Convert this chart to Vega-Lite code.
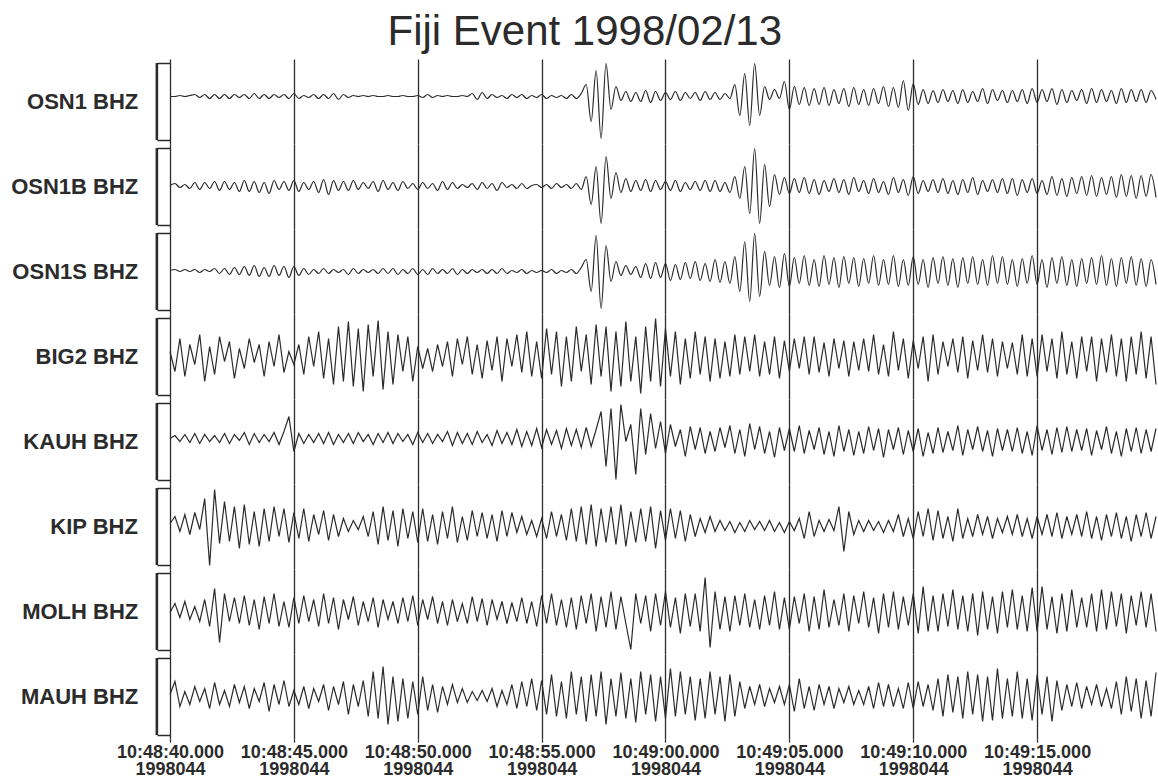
{
"$schema":"https://vega.github.io/schema/vega-lite/v6.json",
"background":"white",
"bounds":"flush",
"padding":{"left":11,"top":11,"right":0,"bottom":2},
"title":{"text":"Fiji Event 1998/02/13","fontSize":42,"font":"Liberation Sans","fontWeight":"normal","color":"#2b2b2b","anchor":"middle","frame":"bounds","offset":5},
"data":{"values":[
{"t":0,"a":5,"b":1,"c":1,"d":5,"e":3,"f":3,"g":-1,"h":2},
{"t":0.2,"a":5,"b":3,"c":2,"d":-15,"e":6,"f":10,"g":8,"h":15},
{"t":0.4,"a":6,"b":-1,"c":0,"d":18,"e":0,"f":-5,"g":-6,"h":-10},
{"t":0.6,"a":5,"b":2,"c":2,"d":-20,"e":7,"f":12,"g":10,"h":5},
{"t":0.8,"a":6,"b":-2,"c":0,"d":12,"e":-1,"f":-8,"g":-8,"h":-8},
{"t":1,"a":7,"b":4,"c":2,"d":-8,"e":8,"f":14,"g":5,"h":10},
{"t":1.2,"a":4,"b":-3,"c":-1,"d":22,"e":-2,"f":-3,"g":-10,"h":-5},
{"t":1.4,"a":7,"b":4,"c":2,"d":-25,"e":7,"f":28,"g":12,"h":8},
{"t":1.6,"a":3,"b":-2,"c":0,"d":10,"e":0,"f":-39,"g":-15,"h":-12},
{"t":1.8,"a":7,"b":5,"c":3,"d":-18,"e":6,"f":37,"g":23,"h":14},
{"t":2,"a":3,"b":-4,"c":-2,"d":20,"e":-1,"f":-17,"g":-31,"h":-8},
{"t":2.2,"a":7,"b":5,"c":3,"d":-5,"e":8,"f":25,"g":18,"h":6},
{"t":2.4,"a":3,"b":-3,"c":-3,"d":15,"e":-2,"f":-15,"g":-10,"h":-10},
{"t":2.6,"a":7,"b":4,"c":4,"d":-22,"e":7,"f":20,"g":14,"h":12},
{"t":2.8,"a":4,"b":-5,"c":-3,"d":8,"e":1,"f":-22,"g":-12,"h":-6},
{"t":3,"a":7,"b":6,"c":5,"d":-12,"e":9,"f":22,"g":16,"h":10},
{"t":3.2,"a":3,"b":-5,"c":-4,"d":18,"e":-3,"f":-18,"g":-14,"h":-12},
{"t":3.4,"a":8,"b":5,"c":6,"d":-6,"e":8,"f":15,"g":12,"h":8},
{"t":3.6,"a":3,"b":-6,"c":-5,"d":12,"e":-1,"f":-20,"g":-18,"h":-5},
{"t":3.8,"a":7,"b":4,"c":4,"d":-20,"e":7,"f":18,"g":15,"h":14},
{"t":4,"a":3,"b":-7,"c":-5,"d":15,"e":0,"f":-15,"g":-12,"h":-15},
{"t":4.2,"a":7,"b":6,"c":6,"d":-10,"e":9,"f":20,"g":18,"h":12},
{"t":4.4,"a":4,"b":-3,"c":-4,"d":22,"e":-3,"f":-10,"g":-15,"h":-8},
{"t":4.6,"a":7,"b":5,"c":5,"d":-16,"e":10,"f":18,"g":10,"h":16},
{"t":4.8,"a":3,"b":-4,"c":-6,"d":5,"e":25,"f":-16,"g":-16,"h":-10},
{"t":5,"a":8,"b":6,"c":5,"d":-8,"e":-10,"f":14,"g":14,"h":6},
{"t":5.2,"a":3,"b":-5,"c":-4,"d":12,"e":8,"f":-12,"g":-12,"h":-8},
{"t":5.4,"a":6,"b":4,"c":3,"d":-18,"e":-2,"f":18,"g":16,"h":10},
{"t":5.6,"a":4,"b":-3,"c":-3,"d":20,"e":7,"f":-15,"g":-10,"h":-12},
{"t":5.8,"a":7,"b":5,"c":2,"d":-10,"e":-1,"f":12,"g":12,"h":8},
{"t":6,"a":3,"b":-6,"c":-2,"d":25,"e":8,"f":-8,"g":-15,"h":-5},
{"t":6.2,"a":7,"b":7,"c":3,"d":-22,"e":-2,"f":16,"g":18,"h":12},
{"t":6.4,"a":3,"b":-8,"c":-2,"d":18,"e":9,"f":-14,"g":-12,"h":-14},
{"t":6.6,"a":8,"b":6,"c":2,"d":-28,"e":-3,"f":12,"g":14,"h":10},
{"t":6.8,"a":2,"b":-4,"c":-1,"d":30,"e":7,"f":-10,"g":-18,"h":-8},
{"t":7,"a":7,"b":5,"c":2,"d":-25,"e":-1,"f":8,"g":12,"h":15},
{"t":7.2,"a":4,"b":-4,"c":-3,"d":35,"e":8,"f":-5,"g":-8,"h":-18},
{"t":7.4,"a":6,"b":6,"c":3,"d":-30,"e":-2,"f":6,"g":15,"h":12},
{"t":7.6,"a":5,"b":-3,"c":-2,"d":28,"e":9,"f":-3,"g":-14,"h":-10},
{"t":7.8,"a":6,"b":4,"c":2,"d":-35,"e":0,"f":10,"g":10,"h":16},
{"t":8,"a":5,"b":-2,"c":-1,"d":32,"e":7,"f":-10,"g":-10,"h":-20},
{"t":8.2,"a":6,"b":5,"c":2,"d":-20,"e":-3,"f":15,"g":14,"h":25},
{"t":8.4,"a":5,"b":-5,"c":-2,"d":36,"e":8,"f":-18,"g":-16,"h":-22},
{"t":8.6,"a":5,"b":6,"c":3,"d":-33,"e":-1,"f":20,"g":12,"h":30},
{"t":8.8,"a":6,"b":-3,"c":-2,"d":25,"e":9,"f":-14,"g":-8,"h":-28},
{"t":9,"a":5,"b":4,"c":3,"d":-28,"e":-2,"f":16,"g":10,"h":20},
{"t":9.2,"a":5,"b":-4,"c":-3,"d":22,"e":8,"f":-20,"g":-12,"h":-25},
{"t":9.4,"a":6,"b":5,"c":2,"d":-15,"e":0,"f":18,"g":14,"h":18},
{"t":9.6,"a":5,"b":-2,"c":-2,"d":20,"e":7,"f":-12,"g":-10,"h":-22},
{"t":9.8,"a":5,"b":3,"c":3,"d":-25,"e":-3,"f":15,"g":16,"h":15},
{"t":10,"a":6,"b":-3,"c":-3,"d":10,"e":9,"f":-16,"g":-14,"h":-18},
{"t":10.2,"a":4,"b":4,"c":2,"d":-12,"e":-1,"f":18,"g":12,"h":20},
{"t":10.4,"a":7,"b":-2,"c":-3,"d":8,"e":8,"f":-15,"g":-8,"h":-14},
{"t":10.6,"a":4,"b":3,"c":3,"d":-15,"e":-2,"f":12,"g":15,"h":12},
{"t":10.8,"a":6,"b":-4,"c":-2,"d":12,"e":7,"f":-18,"g":-12,"h":-16},
{"t":11,"a":5,"b":5,"c":2,"d":-10,"e":0,"f":15,"g":10,"h":10},
{"t":11.2,"a":6,"b":-3,"c":-2,"d":15,"e":10,"f":-12,"g":-14,"h":-8},
{"t":11.4,"a":5,"b":4,"c":3,"d":-20,"e":-4,"f":20,"g":12,"h":12},
{"t":11.6,"a":5,"b":-2,"c":-3,"d":18,"e":9,"f":-16,"g":-10,"h":-6},
{"t":11.8,"a":6,"b":2,"c":2,"d":-8,"e":-2,"f":10,"g":8,"h":8},
{"t":12,"a":5,"b":-1,"c":-2,"d":20,"e":8,"f":-14,"g":-12,"h":-6},
{"t":12.2,"a":8,"b":3,"c":2,"d":-18,"e":-3,"f":16,"g":15,"h":5},
{"t":12.4,"a":2,"b":-3,"c":-1,"d":12,"e":10,"f":-10,"g":-10,"h":-4},
{"t":12.6,"a":9,"b":4,"c":2,"d":-22,"e":-1,"f":14,"g":13,"h":6},
{"t":12.8,"a":3,"b":-2,"c":-2,"d":16,"e":7,"f":-12,"g":-14,"h":-5},
{"t":13,"a":7,"b":3,"c":2,"d":-14,"e":-4,"f":12,"g":12,"h":8},
{"t":13.2,"a":4,"b":-4,"c":-2,"d":20,"e":11,"f":-15,"g":-8,"h":-10},
{"t":13.4,"a":6,"b":4,"c":3,"d":-25,"e":-2,"f":16,"g":10,"h":6},
{"t":13.6,"a":3,"b":-1,"c":-2,"d":18,"e":9,"f":-10,"g":-12,"h":-8},
{"t":13.8,"a":7,"b":2,"c":1,"d":-10,"e":-3,"f":14,"g":9,"h":12},
{"t":14,"a":4,"b":-2,"c":-1,"d":22,"e":12,"f":-6,"g":-10,"h":-12},
{"t":14.2,"a":7,"b":3,"c":2,"d":-16,"e":-5,"f":10,"g":14,"h":15},
{"t":14.4,"a":3,"b":-2,"c":-2,"d":25,"e":10,"f":-8,"g":-12,"h":-10},
{"t":14.6,"a":6,"b":1,"c":1,"d":-20,"e":-4,"f":6,"g":10,"h":18},
{"t":14.8,"a":4,"b":2,"c":-1,"d":15,"e":13,"f":-10,"g":-15,"h":-14},
{"t":15,"a":7,"b":-1,"c":1,"d":-22,"e":-6,"f":8,"g":16,"h":16},
{"t":15.2,"a":3,"b":2,"c":-1,"d":28,"e":12,"f":-12,"g":-12,"h":-18},
{"t":15.4,"a":6,"b":-2,"c":2,"d":-18,"e":-3,"f":15,"g":18,"h":22},
{"t":15.6,"a":4,"b":3,"c":-2,"d":25,"e":11,"f":-10,"g":-14,"h":-20},
{"t":15.8,"a":6,"b":-1,"c":1,"d":-30,"e":-7,"f":12,"g":12,"h":15},
{"t":16,"a":3,"b":2,"c":-1,"d":20,"e":13,"f":-14,"g":-16,"h":-22},
{"t":16.2,"a":7,"b":-2,"c":2,"d":-25,"e":-4,"f":18,"g":14,"h":25},
{"t":16.4,"a":3,"b":3,"c":-2,"d":30,"e":12,"f":-15,"g":-18,"h":-18},
{"t":16.6,"a":8,"b":-3,"c":4,"d":-15,"e":-6,"f":20,"g":16,"h":20},
{"t":16.8,"a":17,"b":10,"c":12,"d":22,"e":14,"f":-18,"g":-12,"h":-25},
{"t":17,"a":-20,"b":-18,"c":-20,"d":-28,"e":-5,"f":22,"g":18,"h":22},
{"t":17.2,"a":31,"b":20,"c":36,"d":32,"e":12,"f":-20,"g":-20,"h":-20},
{"t":17.4,"a":-37,"b":-37,"c":-37,"d":-20,"e":30,"f":18,"g":15,"h":25},
{"t":17.6,"a":38,"b":30,"c":26,"d":30,"e":-25,"f":-16,"g":-16,"h":-28},
{"t":17.8,"a":-8,"b":-12,"c":-10,"d":-35,"e":33,"f":20,"g":20,"h":18},
{"t":18,"a":15,"b":14,"c":10,"d":25,"e":-38,"f":-18,"g":-18,"h":-20},
{"t":18.2,"a":1,"b":-6,"c":-4,"d":-30,"e":37,"f":22,"g":15,"h":24},
{"t":18.4,"a":10,"b":8,"c":6,"d":35,"e":0,"f":-20,"g":-12,"h":-22},
{"t":18.6,"a":0,"b":-5,"c":-3,"d":-25,"e":17,"f":15,"g":-38,"h":18},
{"t":18.8,"a":9,"b":6,"c":5,"d":20,"e":-33,"f":-16,"g":18,"h":-26},
{"t":19,"a":0,"b":-4,"c":-6,"d":-37,"e":33,"f":18,"g":-12,"h":25},
{"t":19.2,"a":11,"b":7,"c":8,"d":30,"e":-13,"f":-15,"g":16,"h":-18},
{"t":19.4,"a":-1,"b":-5,"c":-7,"d":-25,"e":28,"f":20,"g":-20,"h":22},
{"t":19.6,"a":10,"b":6,"c":9,"d":38,"e":-7,"f":-22,"g":18,"h":-25},
{"t":19.8,"a":1,"b":-3,"c":-6,"d":-30,"e":20,"f":16,"g":-14,"h":20},
{"t":20,"a":9,"b":5,"c":8,"d":28,"e":-12,"f":-14,"g":20,"h":-22},
{"t":20.2,"a":2,"b":-4,"c":-9,"d":-20,"e":17,"f":18,"g":-16,"h":28},
{"t":20.4,"a":10,"b":6,"c":7,"d":25,"e":-5,"f":-12,"g":14,"h":-20},
{"t":20.6,"a":1,"b":-5,"c":-8,"d":-28,"e":12,"f":16,"g":-22,"h":25},
{"t":20.8,"a":9,"b":4,"c":9,"d":18,"e":-15,"f":-15,"g":18,"h":-18},
{"t":21,"a":3,"b":-3,"c":-7,"d":-22,"e":15,"f":12,"g":-15,"h":20},
{"t":21.2,"a":9,"b":5,"c":10,"d":25,"e":-8,"f":-10,"g":18,"h":-24},
{"t":21.4,"a":1,"b":-4,"c":-9,"d":-18,"e":14,"f":8,"g":-20,"h":18},
{"t":21.6,"a":10,"b":6,"c":8,"d":20,"e":-12,"f":-6,"g":34,"h":-22},
{"t":21.8,"a":2,"b":-5,"c":-10,"d":-25,"e":10,"f":10,"g":-36,"h":25},
{"t":22,"a":9,"b":6,"c":12,"d":18,"e":-10,"f":-5,"g":20,"h":-18},
{"t":22.2,"a":2,"b":-5,"c":-11,"d":-22,"e":14,"f":6,"g":-18,"h":20},
{"t":22.4,"a":8,"b":4,"c":10,"d":15,"e":-6,"f":-4,"g":15,"h":-25},
{"t":22.6,"a":3,"b":-6,"c":-12,"d":-20,"e":16,"f":5,"g":-20,"h":22},
{"t":22.8,"a":17,"b":10,"c":15,"d":22,"e":-12,"f":-6,"g":16,"h":-20},
{"t":23,"a":-14,"b":-12,"c":-20,"d":-18,"e":12,"f":4,"g":-14,"h":15},
{"t":23.2,"a":28,"b":20,"c":30,"d":20,"e":-15,"f":-5,"g":18,"h":-12},
{"t":23.4,"a":-24,"b":-27,"c":-30,"d":-15,"e":18,"f":6,"g":-16,"h":10},
{"t":23.6,"a":38,"b":38,"c":38,"d":22,"e":-8,"f":-3,"g":12,"h":-8},
{"t":23.8,"a":-14,"b":-37,"c":-25,"d":-20,"e":15,"f":5,"g":-18,"h":12},
{"t":24,"a":15,"b":22,"c":20,"d":15,"e":-12,"f":-4,"g":16,"h":-10},
{"t":24.2,"a":2,"b":-20,"c":-14,"d":-18,"e":10,"f":6,"g":-14,"h":8},
{"t":24.4,"a":12,"b":12,"c":15,"d":20,"e":-16,"f":-5,"g":20,"h":-6},
{"t":24.6,"a":3,"b":-8,"c":-16,"d":-22,"e":14,"f":4,"g":-18,"h":10},
{"t":24.8,"a":20,"b":9,"c":18,"d":16,"e":-9,"f":-6,"g":14,"h":-8},
{"t":25,"a":-8,"b":-7,"c":-15,"d":-15,"e":13,"f":5,"g":-18,"h":12},
{"t":25.2,"a":15,"b":8,"c":14,"d":18,"e":-10,"f":-4,"g":15,"h":-15},
{"t":25.4,"a":-3,"b":-6,"c":-12,"d":-12,"e":16,"f":8,"g":-12,"h":18},
{"t":25.6,"a":14,"b":9,"c":16,"d":20,"e":-12,"f":-12,"g":18,"h":-12},
{"t":25.8,"a":-4,"b":-7,"c":-14,"d":-18,"e":11,"f":15,"g":-20,"h":10},
{"t":26,"a":13,"b":7,"c":12,"d":20,"e":-8,"f":-10,"g":15,"h":-14},
{"t":26.2,"a":-3,"b":-8,"c":-15,"d":-16,"e":14,"f":6,"g":-18,"h":12},
{"t":26.4,"a":14,"b":6,"c":16,"d":14,"e":-13,"f":-5,"g":22,"h":-8},
{"t":26.6,"a":-4,"b":-5,"c":-13,"d":-20,"e":10,"f":7,"g":-16,"h":10},
{"t":26.8,"a":12,"b":8,"c":14,"d":18,"e":-15,"f":-4,"g":12,"h":-12},
{"t":27,"a":-2,"b":-6,"c":-16,"d":-12,"e":16,"f":20,"g":-14,"h":8},
{"t":27.2,"a":13,"b":7,"c":15,"d":16,"e":-10,"f":-25,"g":18,"h":-6},
{"t":27.4,"a":-5,"b":-8,"c":-12,"d":-20,"e":12,"f":15,"g":-20,"h":10},
{"t":27.6,"a":14,"b":9,"c":14,"d":15,"e":-14,"f":-8,"g":16,"h":-8},
{"t":27.8,"a":-3,"b":-5,"c":-15,"d":-14,"e":10,"f":6,"g":-12,"h":6},
{"t":28,"a":12,"b":6,"c":13,"d":18,"e":-12,"f":-5,"g":20,"h":-8},
{"t":28.2,"a":-4,"b":-7,"c":-12,"d":-15,"e":15,"f":6,"g":-16,"h":10},
{"t":28.4,"a":13,"b":8,"c":16,"d":22,"e":-9,"f":-4,"g":14,"h":-12},
{"t":28.6,"a":-2,"b":-6,"c":-14,"d":-18,"e":13,"f":5,"g":-22,"h":14},
{"t":28.8,"a":15,"b":5,"c":12,"d":12,"e":-16,"f":-6,"g":18,"h":-10},
{"t":29,"a":-5,"b":-8,"c":-13,"d":-20,"e":12,"f":6,"g":-16,"h":12},
{"t":29.2,"a":14,"b":9,"c":16,"d":25,"e":-8,"f":-5,"g":20,"h":-10},
{"t":29.4,"a":-6,"b":-6,"c":-15,"d":-14,"e":14,"f":12,"g":-18,"h":8},
{"t":29.6,"a":21,"b":7,"c":12,"d":18,"e":-13,"f":-10,"g":15,"h":-12},
{"t":29.8,"a":-9,"b":-9,"c":-14,"d":-22,"e":11,"f":8,"g":-14,"h":14},
{"t":30,"a":18,"b":10,"c":15,"d":16,"e":-10,"f":-12,"g":18,"h":-12},
{"t":30.2,"a":-3,"b":-7,"c":-13,"d":-12,"e":13,"f":15,"g":-22,"h":15},
{"t":30.4,"a":12,"b":6,"c":12,"d":20,"e":-15,"f":-10,"g":25,"h":-10},
{"t":30.6,"a":-2,"b":-5,"c":-16,"d":-25,"e":9,"f":18,"g":-20,"h":12},
{"t":30.8,"a":11,"b":7,"c":14,"d":22,"e":-12,"f":-14,"g":16,"h":-14},
{"t":31,"a":-1,"b":-6,"c":-12,"d":-18,"e":14,"f":16,"g":-20,"h":18},
{"t":31.2,"a":12,"b":8,"c":15,"d":15,"e":-11,"f":-12,"g":18,"h":-20},
{"t":31.4,"a":0,"b":-7,"c":-14,"d":-10,"e":10,"f":10,"g":-15,"h":22},
{"t":31.6,"a":11,"b":6,"c":13,"d":18,"e":-9,"f":-15,"g":22,"h":-16},
{"t":31.8,"a":-2,"b":-8,"c":-16,"d":-16,"e":16,"f":18,"g":-18,"h":20},
{"t":32,"a":12,"b":7,"c":14,"d":20,"e":-14,"f":-12,"g":16,"h":-22},
{"t":32.2,"a":-1,"b":-6,"c":-12,"d":-22,"e":12,"f":8,"g":-20,"h":25},
{"t":32.4,"a":10,"b":9,"c":15,"d":16,"e":-8,"f":-10,"g":18,"h":-18},
{"t":32.6,"a":0,"b":-8,"c":-13,"d":-14,"e":15,"f":12,"g":-24,"h":22},
{"t":32.8,"a":13,"b":6,"c":12,"d":22,"e":-10,"f":-8,"g":20,"h":-25},
{"t":33,"a":-2,"b":-5,"c":-14,"d":-16,"e":11,"f":10,"g":-18,"h":20},
{"t":33.2,"a":12,"b":7,"c":16,"d":18,"e":-15,"f":-12,"g":15,"h":-24},
{"t":33.4,"a":1,"b":-6,"c":-12,"d":-20,"e":13,"f":8,"g":-22,"h":28},
{"t":33.6,"a":11,"b":8,"c":15,"d":15,"e":-9,"f":-6,"g":20,"h":-22},
{"t":33.8,"a":-1,"b":-7,"c":-13,"d":-12,"e":12,"f":10,"g":-16,"h":18},
{"t":34,"a":11,"b":8,"c":12,"d":14,"e":-10,"f":-8,"g":22,"h":-20},
{"t":34.2,"a":0,"b":-9,"c":-15,"d":-18,"e":14,"f":12,"g":-18,"h":25},
{"t":34.4,"a":12,"b":7,"c":13,"d":22,"e":-12,"f":-10,"g":16,"h":-22},
{"t":34.6,"a":-2,"b":-6,"c":-12,"d":-20,"e":10,"f":8,"g":-20,"h":18},
{"t":34.8,"a":13,"b":8,"c":16,"d":18,"e":-14,"f":-12,"g":24,"h":-24},
{"t":35,"a":-1,"b":-7,"c":-13,"d":-20,"e":16,"f":10,"g":-20,"h":22},
{"t":35.2,"a":12,"b":6,"c":12,"d":22,"e":-9,"f":-8,"g":25,"h":-18},
{"t":35.4,"a":0,"b":-8,"c":-16,"d":-15,"e":12,"f":12,"g":-18,"h":20},
{"t":35.6,"a":13,"b":10,"c":14,"d":18,"e":-13,"f":-10,"g":15,"h":-25},
{"t":35.8,"a":-3,"b":-9,"c":-12,"d":-22,"e":14,"f":14,"g":-22,"h":16},
{"t":36,"a":12,"b":8,"c":15,"d":25,"e":-11,"f":-12,"g":18,"h":-14},
{"t":36.2,"a":-1,"b":-10,"c":-14,"d":-18,"e":15,"f":10,"g":-20,"h":12},
{"t":36.4,"a":11,"b":9,"c":12,"d":15,"e":-10,"f":-8,"g":22,"h":-10},
{"t":36.6,"a":1,"b":-7,"c":-15,"d":-22,"e":12,"f":12,"g":-16,"h":14},
{"t":36.8,"a":12,"b":10,"c":13,"d":20,"e":-9,"f":-10,"g":14,"h":-12},
{"t":37,"a":-2,"b":-9,"c":-12,"d":-15,"e":13,"f":15,"g":-16,"h":10},
{"t":37.2,"a":13,"b":11,"c":14,"d":20,"e":-14,"f":-12,"g":18,"h":-8},
{"t":37.4,"a":-1,"b":-10,"c":-13,"d":-25,"e":11,"f":10,"g":-20,"h":12},
{"t":37.6,"a":12,"b":9,"c":16,"d":18,"e":-8,"f":-14,"g":22,"h":-10},
{"t":37.8,"a":0,"b":-8,"c":-14,"d":-16,"e":15,"f":12,"g":-18,"h":8},
{"t":38,"a":11,"b":10,"c":13,"d":22,"e":-12,"f":-10,"g":20,"h":-12},
{"t":38.2,"a":-2,"b":-11,"c":-15,"d":-20,"e":10,"f":14,"g":-15,"h":15},
{"t":38.4,"a":13,"b":12,"c":14,"d":18,"e":-15,"f":-12,"g":18,"h":-18},
{"t":38.6,"a":-1,"b":-10,"c":-12,"d":-25,"e":13,"f":10,"g":-22,"h":20},
{"t":38.8,"a":12,"b":11,"c":15,"d":20,"e":-10,"f":-15,"g":16,"h":-15},
{"t":39,"a":0,"b":-12,"c":-14,"d":-18,"e":14,"f":12,"g":-14,"h":18},
{"t":39.2,"a":12,"b":11,"c":13,"d":25,"e":-12,"f":-10,"g":20,"h":-22},
{"t":39.4,"a":-1,"b":-10,"c":-15,"d":-22,"e":12,"f":14,"g":-16,"h":16},
{"t":39.6,"a":11,"b":12,"c":12,"d":20,"e":-10,"f":-12,"g":18,"h":-20},
{"t":39.8,"a":2,"b":-11,"c":-13,"d":-28,"e":13,"f":10,"g":-20,"h":24}
]},
"transform":[{"fold":["a","b","c","d","e","f","g","h"],"as":["k","v"]}],
"spacing":0,
"facet":{"row":{"field":"k","type":"nominal","title":null,"header":{"labelExpr":"datum.value=='a'?'OSN1 BHZ':datum.value=='b'?'OSN1B BHZ':datum.value=='c'?'OSN1S BHZ':datum.value=='d'?'BIG2 BHZ':datum.value=='e'?'KAUH BHZ':datum.value=='f'?'KIP BHZ':datum.value=='g'?'MOLH BHZ':'MAUH BHZ'","labelOrient":"left","labelAngle":0,"labelAlign":"left","labelBaseline":"middle","labelFont":"Liberation Sans","labelFontSize":22,"labelFontWeight":"bold","labelColor":"#2b2b2b","labelPadding":18}}},
"spec":{"width":988,"height":85,"layer":[
{"transform":[{"filter":"datum.k=='a'||datum.k=='b'||datum.k=='c'"}],
"mark":{"type":"line","color":"#2b2b2b","strokeWidth":1.2,"interpolate":"monotone"},
"encoding":{
"x":{"field":"t","type":"quantitative","scale":{"domain":[0,39.88],"nice":false,"zero":false},
"axis":{"values":[0,5,10,15,20,25,30,35],"labelExpr":"[timeFormat(datetime(1998,1,13,10,48,40+datum.value),'%H:%M:%S.%L'),timeFormat(datetime(1998,1,13,10,48,40+datum.value),'%Y%j')]","grid":true,"gridColor":"#2b2b2b","gridWidth":1.3,"gridOpacity":1,"domain":false,"ticks":true,"tickColor":"#2b2b2b","tickSize":3,"tickWidth":1.3,"labelFont":"Liberation Sans","labelFontSize":18,"labelFontWeight":"bold","labelColor":"#2b2b2b","labelLineHeight":17,"labelPadding":1,"title":null,"labelFlush":false,"labelOverlap":false}},
"y":{"field":"v","type":"quantitative","scale":{"domain":[-42.5,42.5],"nice":false,"zero":false},
"axis":{"values":[-38.5,38.5],"tickSize":13,"ticks":true,"labels":false,"domain":false,"grid":false,"title":null,"tickColor":"#2b2b2b","tickWidth":1.5}}}},
{"transform":[{"filter":"datum.k!='a'&&datum.k!='b'&&datum.k!='c'"}],
"mark":{"type":"line","color":"#2b2b2b","strokeWidth":1.2},
"encoding":{"x":{"field":"t","type":"quantitative"},"y":{"field":"v","type":"quantitative"}}},
{"data":{"values":[{}]},"mark":{"type":"rule","clip":false,"color":"#2b2b2b","strokeWidth":2.6},
"encoding":{"x":{"datum":-0.53},"y":{"datum":-38.5},"y2":{"datum":38.5}}}
]},
"config":{"view":{"stroke":null}}
}
